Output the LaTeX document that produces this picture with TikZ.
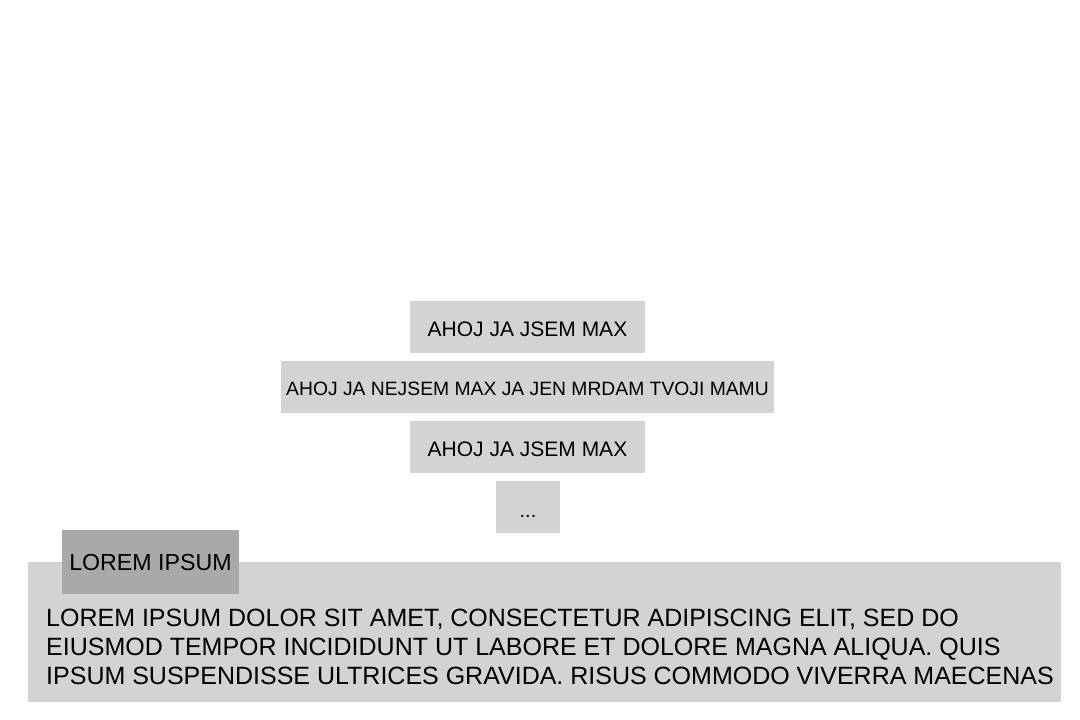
\documentclass[tikz,border=0pt]{standalone}
\usepackage{fontspec}
\setmainfont{Liberation Sans}
\definecolor{boxgray}{HTML}{D3D3D3}
\definecolor{tabgray}{HTML}{A9A9A9}
\begin{document}
\begin{tikzpicture}[x=1pt,y=-1pt,
  graybox/.style={fill=boxgray,draw=none,inner sep=0pt,anchor=center,text depth=0pt},
  tabbox/.style={fill=tabgray,draw=none,inner sep=0pt,anchor=center,text depth=0pt},
  bigfont/.style={font=\fontsize{21}{25}\selectfont},
  midfont/.style={font=\fontsize{19.3}{23}\selectfont},
  tabfont/.style={font=\fontsize{23.2}{27}\selectfont}]
\useasboundingbox[fill=white] (0,0) rectangle (1080,720);
\node[graybox,bigfont,minimum width=235pt,minimum height=52pt,text height=19.4pt] (b1) at (527.5,327) {AHOJ JA JSEM MAX};
\node[graybox,midfont,minimum width=493pt,minimum height=52pt,text height=16pt] (b2) at (527.5,387) {AHOJ JA NEJSEM MAX JA JEN MRDAM TVOJI MAMU};
\node[graybox,bigfont,minimum width=235pt,minimum height=52pt,text height=19.4pt] (b3) at (527.5,447) {AHOJ JA JSEM MAX};
\node[graybox,font=\fontsize{20}{24}\selectfont,minimum width=64pt,minimum height=52pt,text height=20pt] (b4) at (528,507) {...};
\node[graybox,minimum width=1033pt,minimum height=140pt] (big) at (544.5,632) {};
\node[tabbox,tabfont,minimum width=177pt,minimum height=64pt,text height=17.4pt] (tab) at (150.5,562) {LOREM IPSUM};
\node[anchor=north west,inner sep=0pt,align=left,font=\fontsize{25}{29.3}\selectfont] (body) at (46,608.5)
 {LOREM IPSUM DOLOR SIT AMET, CONSECTETUR ADIPISCING ELIT, SED DO\\
  EIUSMOD TEMPOR INCIDIDUNT UT LABORE ET DOLORE MAGNA ALIQUA. QUIS\\
  IPSUM SUSPENDISSE ULTRICES GRAVIDA. RISUS COMMODO VIVERRA MAECENAS};
\end{tikzpicture}
\end{document}
